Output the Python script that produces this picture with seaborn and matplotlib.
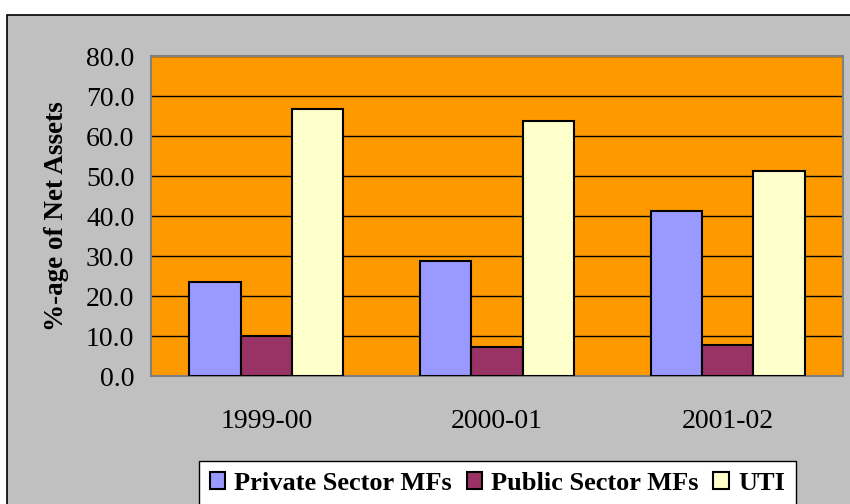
import matplotlib
matplotlib.use("Agg")
import matplotlib.pyplot as plt
import matplotlib.patches as mpatches
from matplotlib.ticker import FixedLocator
import seaborn as sns
import pandas as pd

years = ["1999-00", "2000-01", "2001-02"]
series = ["Private Sector MFs", "Public Sector MFs", "UTI"]
private_sector = [23.5, 28.7, 41.3]
public_sector = [10.0, 7.3, 7.8]
uti = [66.8, 63.8, 51.2]
y_ticks = [0, 10, 20, 30, 40, 50, 60, 70, 80]

colors = ["#9999FF", "#993366", "#FFFFCC"]

df = pd.DataFrame({
    "Year": years * 3,
    "Sector": [s for s in series for _ in years],
    "Value": private_sector + public_sector + uti,
})

sns.set_style("white")
plt.rcParams["font.family"] = ["Liberation Serif", "DejaVu Serif"]
plt.rcParams["text.color"] = "black"
plt.rcParams["xtick.color"] = "black"
plt.rcParams["ytick.color"] = "black"
plt.rcParams["axes.labelcolor"] = "black"

fig = plt.figure(figsize=(8.5, 5.04), dpi=100)
fig.patch.set_facecolor("white")
# grey chart-area frame
fig.patches.append(mpatches.Rectangle((7 / 850, -0.1), 1.0, 1 - 15 / 504 + 0.1,
                                      transform=fig.transFigure, facecolor="#C0C0C0",
                                      edgecolor="black", linewidth=1.2, zorder=-10))

ax = fig.add_axes([151 / 850, 1 - 376 / 504, (843 - 151) / 850, (376 - 56) / 504])
ax.set_facecolor("#FF9900")

sns.barplot(data=df, x="Year", y="Value", hue="Sector", palette=colors,
            saturation=1, width=0.667, gap=0, edgecolor="black", linewidth=1.5,
            legend=False, ax=ax, zorder=3)

ax.set_ylim(0, 80)
ax.set_xlim(-0.5, 2.5)
ax.set_yticks(y_ticks)
ax.set_yticklabels([f"{v:.1f}" for v in y_ticks], fontsize=20)
ax.yaxis.grid(True, color="black", linewidth=1.0, zorder=0)
ax.set_axisbelow(True)

ax.tick_params(axis="x", which="major", length=0, labelsize=20, pad=24)
ax.xaxis.set_minor_locator(FixedLocator([-0.5, 0.5, 1.5, 2.5]))
ax.tick_params(axis="x", which="minor", length=7, width=1.2, color="#555555", direction="out")
ax.tick_params(axis="y", length=7, width=1.2, color="#555555", labelcolor="black",
               direction="out", pad=5)
ax.tick_params(axis="x", labelcolor="black")

for side in ["left", "right", "top", "bottom"]:
    ax.spines[side].set_color("#808080")
    ax.spines[side].set_linewidth(1.5)

ax.set_xlabel("")
ax.set_ylabel("%-age of Net Assets", fontsize=19.5, fontweight="bold", labelpad=12)

handles = [mpatches.Patch(facecolor=c, edgecolor="black", linewidth=1.5) for c in colors]
leg = fig.legend(handles, series, loc="upper left",
                 bbox_to_anchor=(199 / 850, 1 - 461 / 504), ncol=3,
                 prop={"family": ["Liberation Serif"], "weight": "bold", "size": 19},
                 frameon=True, fancybox=False, edgecolor="black", facecolor="white",
                 framealpha=1,
                 handlelength=0.6, handleheight=0.6, handletextpad=0.34,
                 columnspacing=0.55, borderpad=0.4, borderaxespad=0)
leg.get_frame().set_linewidth(1.0)

fig.savefig("out.png", dpi=100)
